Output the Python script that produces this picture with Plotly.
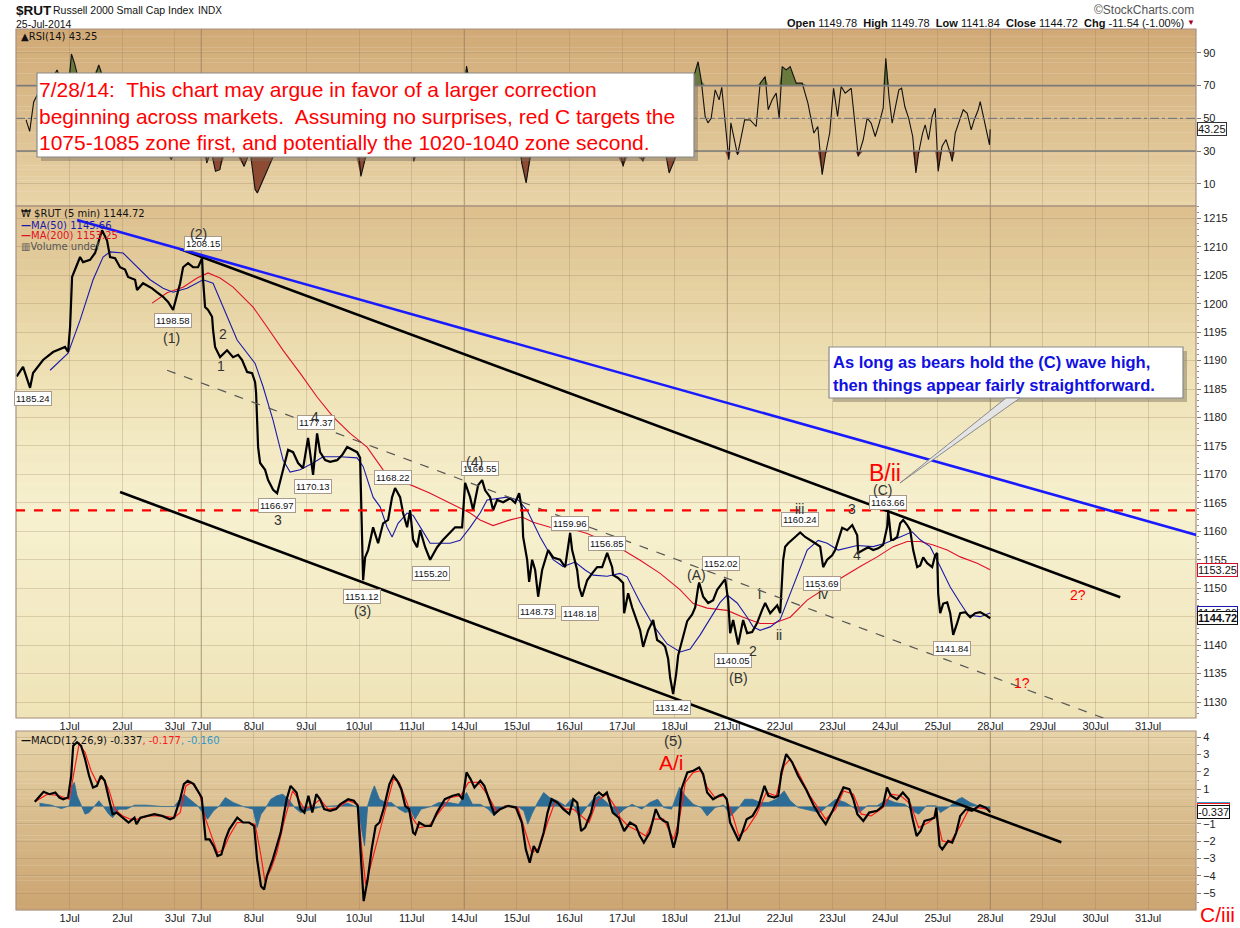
import numpy as np
import plotly.graph_objects as go

W, H = 1240, 928

# ---- axis data ----
day_labels = ['1Jul', '2Jul', '3Jul', '7Jul', '8Jul', '9Jul', '10Jul', '11Jul', '14Jul', '15Jul', '16Jul',
              '17Jul', '18Jul', '21Jul', '22Jul', '23Jul', '24Jul', '25Jul', '28Jul', '29Jul', '30Jul', '31Jul']
day_pos = [0, 1, 2, 2.5, 3.5, 4.5, 5.5, 6.5, 7.5, 8.5, 9.5, 10.5, 11.5, 12.5, 13.5, 14.5, 15.5, 16.5,
           17.5, 18.5, 19.5, 20.5]
week_pos = [2.5, 7.5, 12.5, 17.5]

# ---- $RUT 5 min close (session day, price) ----
price_pts = [
    (-1.006, 1187.2), (-0.886, 1188.9), (-0.753, 1185.2), (-0.696, 1187.8), (-0.506, 1190.1),
    (-0.316, 1191.5), (-0.087, 1192.4), (-0.030, 1191.5), (0.008, 1195.9), (0.046, 1204.7),
    (0.103, 1206.0), (0.198, 1208.2), (0.255, 1207.3), (0.388, 1207.7), (0.483, 1208.9),
    (0.540, 1210.7), (0.616, 1212.9), (0.711, 1211.1), (0.768, 1208.2), (0.863, 1208.0),
    (0.958, 1206.4), (1.053, 1206.0), (1.110, 1204.7), (1.243, 1204.2), (1.281, 1202.4),
    (1.395, 1203.6), (1.567, 1202.7), (1.662, 1202.0), (1.776, 1201.2), (1.871, 1200.3),
    (1.966, 1198.9), (2.100, 1203.6), (2.156, 1206.4), (2.251, 1207.1), (2.346, 1206.4),
    (2.441, 1206.4), (2.517, 1208.0), (2.536, 1204.2), (2.574, 1199.4), (2.631, 1198.9),
    (2.707, 1197.7), (2.726, 1195.4), (2.764, 1192.4), (2.859, 1190.6), (2.992, 1191.8),
    (3.106, 1190.6), (3.202, 1191.0), (3.278, 1190.1), (3.373, 1188.0), (3.468, 1187.8),
    (3.525, 1186.2), (3.544, 1184.3), (3.563, 1177.3), (3.582, 1174.8), (3.620, 1172.0),
    (3.715, 1170.8), (3.772, 1169.0), (3.867, 1167.3), (3.943, 1166.7), (4.000, 1169.0),
    (4.057, 1170.8), (4.152, 1174.3), (4.247, 1173.9), (4.342, 1172.0), (4.437, 1171.1),
    (4.532, 1176.4), (4.608, 1170.8), (4.627, 1169.9), (4.703, 1177.2), (4.760, 1173.9),
    (4.856, 1172.5), (4.951, 1172.2), (5.084, 1172.5), (5.179, 1173.4), (5.274, 1174.8),
    (5.369, 1174.3), (5.464, 1173.9), (5.521, 1172.9), (5.559, 1154.4), (5.578, 1151.4),
    (5.616, 1155.4), (5.673, 1156.7), (5.768, 1160.7), (5.863, 1157.9), (5.958, 1161.4),
    (6.053, 1162.0), (6.129, 1166.0), (6.186, 1167.6), (6.281, 1166.0), (6.338, 1163.2),
    (6.414, 1160.7), (6.471, 1163.7), (6.529, 1158.5), (6.605, 1157.2), (6.662, 1160.2),
    (6.757, 1157.2), (6.852, 1155.0), (6.985, 1157.2), (7.099, 1158.5), (7.232, 1159.7),
    (7.327, 1160.7), (7.460, 1160.7), (7.517, 1168.5), (7.612, 1166.0), (7.669, 1163.7),
    (7.764, 1168.1), (7.840, 1169.0), (7.897, 1167.2), (7.992, 1166.0), (8.049, 1163.7),
    (8.125, 1165.5), (8.240, 1165.1), (8.373, 1165.8), (8.468, 1165.0), (8.544, 1166.7),
    (8.601, 1163.7), (8.620, 1159.0), (8.696, 1155.0), (8.734, 1151.1), (8.791, 1155.0),
    (8.848, 1153.2), (8.905, 1148.5), (8.981, 1153.2), (9.095, 1156.7), (9.190, 1155.4),
    (9.323, 1155.0), (9.418, 1153.7), (9.513, 1159.7), (9.551, 1156.7), (9.646, 1153.2),
    (9.684, 1150.2), (9.741, 1148.5), (9.837, 1151.4), (9.932, 1152.6), (10.027, 1153.7),
    (10.122, 1153.7), (10.217, 1156.2), (10.312, 1153.7), (10.331, 1152.3), (10.426, 1151.8),
    (10.521, 1150.9), (10.540, 1145.6), (10.616, 1149.1), (10.692, 1146.6), (10.787, 1143.9),
    (10.844, 1142.6), (10.901, 1139.7), (10.996, 1142.6), (11.091, 1144.4), (11.167, 1140.9),
    (11.262, 1140.3), (11.319, 1139.7), (11.376, 1137.6), (11.414, 1134.3), (11.471, 1131.4),
    (11.528, 1134.9), (11.567, 1138.2), (11.643, 1140.7), (11.738, 1144.2), (11.833, 1145.4),
    (11.890, 1146.6), (11.947, 1150.2), (11.966, 1151.0), (12.042, 1148.5), (12.137, 1147.4),
    (12.232, 1147.9), (12.308, 1149.7), (12.403, 1150.9), (12.460, 1151.6), (12.517, 1147.9),
    (12.555, 1142.1), (12.612, 1144.4), (12.707, 1140.1), (12.802, 1144.4), (12.878, 1142.1),
    (12.973, 1142.3), (13.068, 1143.9), (13.163, 1146.2), (13.221, 1147.4), (13.316, 1145.6),
    (13.449, 1147.0), (13.506, 1145.6), (13.544, 1150.9), (13.563, 1155.0), (13.601, 1157.3),
    (13.658, 1157.9), (13.791, 1159.0), (13.886, 1159.8), (13.981, 1159.0), (14.076, 1158.5),
    (14.171, 1157.9), (14.266, 1157.3), (14.323, 1153.7), (14.399, 1155.0), (14.494, 1155.8),
    (14.551, 1156.7), (14.608, 1158.5), (14.684, 1160.6), (14.779, 1160.2), (14.875, 1161.1),
    (14.970, 1159.3), (14.989, 1156.2), (15.084, 1156.7), (15.179, 1157.2), (15.274, 1156.7),
    (15.369, 1157.0), (15.464, 1157.6), (15.540, 1160.8), (15.559, 1163.6), (15.616, 1158.5),
    (15.654, 1158.5), (15.730, 1159.0), (15.787, 1161.4), (15.844, 1162.0), (15.920, 1161.1),
    (15.977, 1160.2), (16.034, 1156.7), (16.110, 1153.7), (16.167, 1154.0), (16.224, 1155.4),
    (16.300, 1154.4), (16.395, 1153.7), (16.452, 1155.8), (16.490, 1156.2), (16.509, 1149.1),
    (16.547, 1145.6), (16.605, 1147.3), (16.681, 1147.5), (16.738, 1145.6), (16.795, 1141.8),
    (16.871, 1143.9), (16.928, 1145.6), (17.023, 1145.8), (17.118, 1144.9), (17.213, 1145.6),
    (17.308, 1145.8), (17.403, 1145.3), (17.498, 1144.72),
]

ma50_pts = [
    (-0.372, 1188.3), (-0.030, 1191.3), (0.198, 1197.1), (0.445, 1204.2), (0.635, 1208.2),
    (0.768, 1209.1), (1.015, 1208.9), (1.205, 1207.1), (1.529, 1204.2), (1.776, 1202.7),
    (1.966, 1202.0), (2.232, 1202.7), (2.536, 1204.2), (2.726, 1203.6), (2.916, 1199.4),
    (3.183, 1193.6), (3.525, 1189.5), (3.677, 1185.4), (3.867, 1179.5), (4.057, 1172.5),
    (4.190, 1170.4), (4.380, 1170.8), (4.627, 1172.0), (4.817, 1173.1), (5.141, 1173.1),
    (5.464, 1172.9), (5.578, 1171.4), (5.768, 1166.0), (5.901, 1164.3), (6.034, 1160.7),
    (6.129, 1159.0), (6.243, 1161.4), (6.414, 1163.2), (6.529, 1162.8), (6.700, 1160.2),
    (6.852, 1157.9), (7.232, 1157.9), (7.422, 1158.4), (7.612, 1160.7), (7.802, 1163.2),
    (7.935, 1165.5), (8.316, 1166.0), (8.525, 1165.5), (8.696, 1163.7), (8.943, 1159.0),
    (9.190, 1155.0), (9.380, 1153.8), (9.608, 1154.6), (9.798, 1153.2), (9.951, 1152.3),
    (10.217, 1152.1), (10.464, 1152.6), (10.597, 1152.0), (10.844, 1147.5), (11.091, 1143.5),
    (11.357, 1140.2), (11.605, 1138.8), (11.795, 1139.3), (11.985, 1141.8), (12.175, 1144.6),
    (12.365, 1147.5), (12.498, 1148.8), (12.688, 1147.4), (12.878, 1144.9), (12.992, 1143.2),
    (13.125, 1142.6), (13.316, 1143.2), (13.506, 1144.5), (13.696, 1149.0), (14.019, 1156.7),
    (14.228, 1158.4), (14.399, 1157.9), (14.608, 1156.7), (14.970, 1157.5), (15.274, 1157.3),
    (15.502, 1157.9), (15.787, 1159.0), (16.015, 1159.9), (16.167, 1158.5), (16.357, 1157.3),
    (16.547, 1153.8), (16.738, 1150.2), (16.928, 1147.4), (17.080, 1145.3), (17.308, 1145.0),
    (17.498, 1145.66),
]

ma200_pts = [
    (1.567, 1200.1), (1.852, 1201.9), (2.156, 1202.9), (2.422, 1204.5), (2.631, 1205.4),
    (2.859, 1204.5), (3.106, 1202.9), (3.487, 1199.4), (3.753, 1195.9), (4.057, 1191.8),
    (4.380, 1187.8), (4.703, 1183.6), (5.008, 1180.1), (5.331, 1177.2), (5.654, 1174.8),
    (5.958, 1170.8), (6.148, 1168.7), (6.471, 1168.2), (6.852, 1166.7), (7.232, 1165.0),
    (7.612, 1163.2), (7.802, 1162.0), (8.049, 1161.0), (8.373, 1162.0), (8.601, 1162.5),
    (8.810, 1161.6), (9.133, 1160.7), (9.513, 1160.5), (9.837, 1159.6), (10.141, 1158.4),
    (10.464, 1157.0), (10.844, 1154.9), (11.224, 1152.6), (11.605, 1149.7), (11.852, 1147.3),
    (12.118, 1146.5), (12.498, 1146.1), (12.802, 1144.9), (13.125, 1143.8), (13.373, 1143.8),
    (13.696, 1144.9), (14.019, 1147.9), (14.399, 1150.2), (14.703, 1152.0), (15.027, 1153.8),
    (15.350, 1155.5), (15.654, 1157.3), (15.920, 1158.2), (16.167, 1158.2), (16.414, 1157.6),
    (16.681, 1156.7), (16.928, 1155.5), (17.251, 1154.4), (17.498, 1153.25),
]

# ---- RSI(14) ----
rsi_pts = [
    (-0.829, 49), (-0.760, 42), (-0.684, 60), (-0.620, 64), (-0.468, 70), (-0.335, 74), (-0.240, 79.6),
    (-0.144, 72), (-0.030, 66), (0.034, 89.3), (0.093, 83.6), (0.198, 70), (0.350, 62), (0.553, 82.6),
    (0.597, 78.5), (0.711, 60), (0.863, 45), (1.053, 50), (1.243, 40), (1.435, 46), (1.624, 38),
    (1.776, 33), (1.935, 24.7), (2.023, 40), (2.156, 62), (2.289, 55), (2.441, 58), (2.517, 62),
    (2.605, 22.7), (2.688, 30), (2.772, 17.6), (2.856, 18.6), (2.973, 40), (3.125, 35), (3.316, 20.6),
    (3.430, 30), (3.525, 6.4), (3.568, 4.4), (3.652, 10.5), (3.778, 20.6), (3.861, 26), (4.000, 45),
    (4.190, 60), (4.380, 50), (4.532, 65), (4.627, 40), (4.703, 68), (4.856, 52), (5.046, 50),
    (5.236, 58), (5.426, 52), (5.536, 14.5), (5.616, 25), (5.749, 50), (5.901, 45), (6.091, 62),
    (6.205, 68), (6.338, 50), (6.471, 55), (6.542, 23.7), (6.662, 45), (6.852, 35), (7.042, 50),
    (7.327, 55), (7.460, 52), (7.545, 82), (7.650, 60), (7.802, 70), (7.992, 50), (8.183, 52),
    (8.373, 55), (8.525, 58), (8.593, 22.7), (8.677, 10.5), (8.791, 35), (8.943, 28), (9.095, 50),
    (9.323, 45), (9.513, 70), (9.665, 35), (9.760, 28), (9.932, 45), (10.179, 60), (10.369, 45),
    (10.521, 20.6), (10.654, 45), (10.897, 23.7), (11.034, 45), (11.224, 35), (11.319, 30),
    (11.395, 16.6), (11.500, 24.7), (11.605, 45), (11.757, 70), (11.890, 78.5), (11.945, 84.6),
    (12.004, 73.5), (12.080, 51.1), (12.133, 47.2), (12.194, 50), (12.270, 67.4), (12.346, 61.3),
    (12.395, 69), (12.454, 51.1), (12.530, 24.7), (12.568, 47.2), (12.643, 36.9), (12.696, 27.7),
    (12.755, 37), (12.831, 49.1), (12.935, 49), (13.049, 45), (13.125, 71.5), (13.221, 75.5),
    (13.278, 55.2), (13.354, 61.3), (13.430, 65.4), (13.487, 50.1), (13.544, 81.6), (13.620, 79.6),
    (13.696, 81.6), (13.810, 71.5), (13.924, 71.5), (14.033, 59.3), (14.146, 41), (14.221, 45),
    (14.304, 15.5), (14.371, 28.8), (14.447, 41), (14.521, 68.4), (14.597, 51.1), (14.665, 69.4),
    (14.741, 65.4), (14.856, 68.4), (14.932, 45), (14.989, 26.7), (15.084, 36.9), (15.160, 50.1),
    (15.236, 47), (15.312, 38.9), (15.388, 47), (15.464, 56.2), (15.513, 86.7), (15.574, 63.3),
    (15.635, 47), (15.686, 55.2), (15.762, 67.4), (15.814, 68.4), (15.875, 57.2), (15.949, 50),
    (16.025, 38.9), (16.086, 16.6), (16.137, 28.8), (16.213, 41), (16.262, 46), (16.325, 36.9),
    (16.395, 51.1), (16.452, 56.2), (16.509, 17.6), (16.582, 32.8), (16.658, 37), (16.738, 28.8),
    (16.776, 23.7), (16.833, 41), (16.928, 49.1), (16.985, 55.2), (17.061, 53), (17.137, 43),
    (17.194, 49), (17.270, 55.2), (17.308, 60.2), (17.371, 51.1), (17.447, 41), (17.485, 33.8),
    (17.498, 43.25),
]

# ---- MACD(12,26,9) ----
macd_pts = [
    (-0.662, 0.27), (-0.496, 0.85), (-0.384, 0.71), (-0.272, 0.81), (-0.196, 0.52), (-0.122, 0.42),
    (-0.030, 0.52), (0.029, 1.77), (0.067, 3.5), (0.141, 3.7), (0.217, 3.5), (0.293, 2.74),
    (0.369, 1.77), (0.443, 1.1), (0.517, 1.19), (0.593, 1.77), (0.667, 1.48), (0.743, 0.42),
    (0.817, -0.44), (0.894, -0.35), (1.006, -0.64), (1.120, -0.92), (1.232, -0.64), (1.270, -1.02),
    (1.344, -0.64), (1.456, -0.54), (1.608, -0.44), (1.757, -0.54), (1.909, -0.73), (1.985, -0.64),
    (2.099, 0.42), (2.171, 1.29), (2.245, 1.48), (2.359, 1.29), (2.510, 0.52), (2.548, -0.73),
    (2.584, -1.89), (2.660, -1.89), (2.734, -2.27), (2.810, -2.85), (2.884, -2.76), (2.960, -1.89),
    (3.034, -1.31), (3.186, -0.64), (3.297, -0.92), (3.411, -0.92), (3.506, -1.12), (3.563, -3.04),
    (3.637, -4.59), (3.696, -4.78), (3.749, -4.0), (3.861, -3.04), (4.011, -1.5), (4.125, 0.42),
    (4.200, 1.19), (4.312, 0.81), (4.388, -0.15), (4.462, -0.35), (4.538, 0.62), (4.612, -0.35),
    (4.688, 0.71), (4.760, 0.42), (4.837, -0.15), (4.951, -0.25), (5.065, -0.15), (5.141, 0.13),
    (5.293, 0.42), (5.403, 0.33), (5.477, 0.04), (5.515, -1.89), (5.553, -4.0), (5.589, -5.45),
    (5.665, -4.2), (5.740, -2.47), (5.816, -1.12), (5.890, -0.92), (5.966, -0.15), (6.078, 1.29),
    (6.154, 1.77), (6.228, 1.48), (6.304, 1.0), (6.378, 0.04), (6.452, -0.15), (6.529, -1.5),
    (6.567, -1.6), (6.643, -0.92), (6.755, -1.12), (6.867, -1.12), (6.981, -0.35), (7.131, 0.42),
    (7.281, 0.62), (7.394, 0.71), (7.470, 0.42), (7.544, 1.97), (7.620, 1.58), (7.694, 1.1),
    (7.806, 1.48), (7.882, 1.19), (7.994, 0.23), (8.070, -0.44), (8.183, -0.15), (8.335, 0.04),
    (8.483, -0.06), (8.595, -0.92), (8.671, -2.47), (8.745, -3.24), (8.821, -2.27), (8.895, -2.66),
    (9.010, -1.5), (9.084, -0.35), (9.160, 0.42), (9.272, 0.23), (9.384, -0.15), (9.498, -0.44),
    (9.572, 0.42), (9.648, 0.23), (9.722, -1.41), (9.798, -1.21), (9.911, -0.35), (9.985, 0.62),
    (10.061, 0.81), (10.137, 0.62), (10.211, 0.81), (10.323, -0.35), (10.437, -0.64), (10.540, -1.41),
    (10.652, -0.92), (10.764, -1.12), (10.840, -1.7), (10.914, -2.08), (11.027, -1.5), (11.141, -0.15),
    (11.215, -0.64), (11.291, -0.83), (11.365, -0.92), (11.441, -1.89), (11.479, -2.37), (11.553, -1.5),
    (11.629, 1.0), (11.741, 1.97), (11.854, 2.06), (11.966, 2.25), (12.042, 1.87), (12.118, 0.81),
    (12.230, 0.42), (12.342, 0.62), (12.418, 0.71), (12.492, 0.42), (12.553, -0.92), (12.643, -1.5),
    (12.719, -1.98), (12.793, -1.41), (12.869, -0.73), (12.981, -0.54), (13.093, 0.04), (13.207, 1.19),
    (13.281, 0.62), (13.395, 0.52), (13.470, 0.62), (13.530, 1.97), (13.620, 3.02), (13.734, 2.54),
    (13.846, 1.77), (13.996, 1.0), (14.146, 0.04), (14.259, -0.54), (14.371, -1.02), (14.485, -0.35),
    (14.597, 0.42), (14.709, 1.1), (14.821, 1.0), (14.897, 0.42), (14.973, -0.44), (15.086, -0.83),
    (15.198, -0.35), (15.348, -0.25), (15.460, 0.04), (15.536, 1.1), (15.610, 0.62), (15.724, 0.42),
    (15.837, 0.81), (15.949, 0.42), (16.025, -0.73), (16.099, -1.7), (16.175, -1.41), (16.249, -0.83),
    (16.363, -0.73), (16.437, -0.64), (16.475, -0.06), (16.536, -2.27), (16.587, -2.47), (16.700, -1.98),
    (16.776, -2.08), (16.852, -1.5), (16.928, -0.54), (17.038, -0.15), (17.152, -0.25), (17.302, 0.08),
    (17.414, -0.06), (17.498, -0.337),
]

signal_pts = [
    (-0.662, 0.27), (-0.422, 0.71), (-0.196, 0.62), (-0.008, 0.42), (0.105, 2.35), (0.179, 3.6),
    (0.293, 3.12), (0.407, 2.06), (0.517, 1.39), (0.631, 1.68), (0.743, 1.0), (0.856, -0.15),
    (1.006, -0.54), (1.156, -0.73), (1.306, -0.73), (1.494, -0.54), (1.757, -0.54), (1.985, -0.64),
    (2.099, -0.35), (2.209, 1.19), (2.321, 1.39), (2.471, 0.71), (2.584, -0.73), (2.698, -1.7),
    (2.810, -2.66), (2.922, -2.47), (3.034, -1.7), (3.186, -0.92), (3.373, -0.92), (3.525, -1.02),
    (3.637, -2.85), (3.711, -4.3), (3.825, -3.62), (3.937, -2.66), (4.087, -0.73), (4.238, 0.9),
    (4.350, 0.42), (4.462, -0.15), (4.612, 0.04), (4.760, 0.42), (4.913, -0.15), (5.101, -0.06),
    (5.289, 0.33), (5.477, 0.13), (5.553, -2.47), (5.627, -4.49), (5.740, -3.24), (5.854, -1.89),
    (6.004, -0.15), (6.154, 1.58), (6.266, 1.39), (6.416, 0.23), (6.529, -0.73), (6.643, -1.21),
    (6.831, -1.12), (7.017, -0.35), (7.243, 0.52), (7.432, 0.62), (7.582, 1.39), (7.770, 1.39),
    (7.956, 0.62), (8.106, -0.25), (8.295, 0.04), (8.521, -0.06), (8.671, -1.5), (8.785, -2.66),
    (8.933, -2.37), (9.084, -0.92), (9.234, 0.33), (9.422, -0.15), (9.572, -0.15), (9.722, -0.54),
    (9.873, -0.92), (10.023, 0.33), (10.211, 0.71), (10.399, -0.15), (10.464, -0.64), (10.614, -1.12),
    (10.802, -1.41), (10.952, -1.7), (11.103, -0.73), (11.291, -0.73), (11.479, -1.89), (11.591, -0.73),
    (11.703, 1.39), (11.854, 1.97), (12.004, 2.06), (12.118, 1.1), (12.268, 0.52), (12.454, 0.62),
    (12.605, -0.54), (12.719, -1.7), (12.869, -1.31), (13.057, -0.44), (13.243, 0.81), (13.431, 0.62),
    (13.582, 2.35), (13.696, 2.74), (13.846, 1.97), (14.072, 0.62), (14.221, -0.06), (14.371, -0.73),
    (14.559, -0.15), (14.709, 0.9), (14.897, 0.71), (15.048, -0.44), (15.236, -0.54), (15.460, -0.06),
    (15.610, 0.71), (15.798, 0.62), (15.987, 0.13), (16.137, -1.21), (16.325, -0.92), (16.475, -0.54),
    (16.587, -1.98), (16.738, -2.08), (16.928, -1.12), (17.076, -0.25), (17.264, -0.06), (17.498, -0.177),
]

hist_pts = [
    (-0.572, 0.19), (-0.346, 0.08), (-0.158, -0.12), (-0.008, 0.04), (0.046, 1.19), (0.089, 1.39),
    (0.141, 0.62), (0.217, 0.04), (0.293, -0.44), (0.369, -0.35), (0.481, 0.04), (0.555, 0.33),
    (0.631, 0.04), (0.743, -0.44), (0.817, -0.64), (0.932, -0.15), (1.082, -0.15), (1.232, 0.08),
    (1.456, 0.08), (1.757, 0), (1.985, 0), (2.099, 0.42), (2.171, 0.71), (2.283, 0.42), (2.433, 0.04),
    (2.548, -0.44), (2.622, -0.73), (2.734, -0.25), (2.848, 0.04), (2.960, 0.52), (3.110, 0.23),
    (3.297, 0), (3.487, -0.15), (3.563, -1.21), (3.637, -0.44), (3.711, -0.15), (3.825, 0.42),
    (3.937, 0.62), (4.049, 0.71), (4.162, 0.42), (4.276, -0.06), (4.388, -0.35), (4.612, -0.15),
    (4.800, 0), (5.065, 0.04), (5.289, 0.19), (5.477, -0.06), (5.553, -1.5), (5.605, -2.27),
    (5.665, 0.04), (5.740, 0.81), (5.793, 1.19), (5.890, 0.42), (6.004, 0.23), (6.116, 0.23),
    (6.266, -0.15), (6.378, -0.35), (6.490, -0.25), (6.567, -0.73), (6.679, -0.15), (6.867, 0),
    (7.017, 0.23), (7.205, 0.23), (7.394, 0.13), (7.544, 0.81), (7.656, 0.13), (7.806, 0.13),
    (7.956, -0.15), (8.070, -0.54), (8.257, 0.04), (8.521, 0), (8.633, -0.25), (8.709, -1.02),
    (8.785, -0.44), (8.895, 0.23), (9.010, 0.81), (9.122, 0.52), (9.272, 0.33), (9.422, 0.04),
    (9.534, 0.42), (9.684, -0.64), (9.798, -0.15), (9.949, 0.42), (10.061, 0.62), (10.211, 0.23),
    (10.399, -0.54), (10.540, -0.15), (10.690, 0.13), (10.876, -0.15), (11.027, 0.23), (11.177, 0.42),
    (11.291, -0.06), (11.441, -0.15), (11.591, 1.1), (11.703, 0.62), (11.854, 0.13), (12.004, -0.06),
    (12.118, -0.54), (12.268, -0.06), (12.433, 0.08), (12.568, -0.54), (12.719, -0.06), (12.831, 0.42),
    (12.981, 0.42), (13.131, 0.23), (13.281, 0.23), (13.431, 0.42), (13.582, 0.9), (13.696, 0.33),
    (13.846, -0.06), (13.996, -0.15), (14.146, -0.25), (14.259, -0.35), (14.409, 0.04), (14.559, 0.42),
    (14.747, 0.23), (14.897, -0.06), (15.010, -0.35), (15.160, 0.04), (15.348, 0.04), (15.536, 0.42),
    (15.686, 0.23), (15.875, 0.13), (16.025, -0.25), (16.137, -0.44), (16.287, 0.04), (16.475, 0.04),
    (16.551, -0.35), (16.700, -0.06), (16.890, 0.42), (16.964, 0.52), (17.114, 0.23), (17.264, 0.04),
    (17.414, -0.15), (17.498, -0.16),
]

# drawn trend lines (day, value)
blue_line = [(0.141, 1214.7), (22.02, 1157.8)]
upper_black = [(2.10, 1209.6), (19.97, 1148.4)]
mid_dashed = [(1.852, 1188.3), (19.70, 1127.0)]
lower_black_start = (0.958, 1166.9)   # price panel
lower_black_end = (18.85, -2.06)      # MACD panel
c_wave_high = 1163.66

# price pivot labels (text, day, price)
pivot_boxes = [
    ('1185.24', -0.70, 1183.3), ('1198.58', 1.96, 1197.0), ('1208.15', 2.54, 1210.5),
    ('1177.37', 4.68, 1179.2), ('1166.97', 3.94, 1164.5), ('1170.13', 4.63, 1167.8),
    ('1168.22', 6.15, 1169.5), ('1151.12', 5.56, 1148.5), ('1155.20', 6.87, 1152.6),
    ('1169.55', 7.80, 1171.0), ('1159.96', 9.51, 1161.3), ('1156.85', 10.22, 1157.9),
    ('1148.73', 8.89, 1145.9), ('1148.18', 9.70, 1145.6), ('1152.02', 12.38, 1154.4),
    ('1131.42', 11.45, 1129.1), ('1140.05', 12.61, 1137.3), ('1160.24', 13.88, 1162.0),
    ('1153.69', 14.30, 1150.8), ('1163.66', 15.56, 1165.1), ('1141.84', 16.78, 1139.4),
]
wave_labels = [
    ('(1)', 1.93, 1194.0), ('(2)', 2.44, 1212.3), ('2', 2.92, 1194.6), ('1', 2.88, 1189.0),
    ('4', 4.66, 1180.0), ('3', 3.96, 1162.0), ('(3)', 5.56, 1146.0), ('(4)', 7.70, 1172.2),
    ('(A)', 11.91, 1152.3), ('2', 12.99, 1138.9), ('(B)', 12.71, 1134.2), ('i', 13.12, 1148.9),
    ('ii', 13.49, 1141.7), ('iii', 13.88, 1163.9), ('3', 14.87, 1163.9), ('4', 14.97, 1155.8),
    ('iv', 14.32, 1148.9), ('(C)', 15.46, 1167.2),
]
red_labels = [('B/ii', 15.50, 1170.2, 23), ('2?', 19.17, 1148.8, 14), ('1?', 18.11, 1133.3, 14)]

note_lines = [
    '7/28/14:  This chart may argue in favor of a larger correction',
    'beginning across markets.  Assuming no surprises, red C targets the',
    '1075-1085 zone first, and potentially the 1020-1040 zone second.',
]
callout_lines = ['As long as bears hold the (C) wave high,', 'then things appear fairly straightforward.']


def xy(pts):
    return [p[0] for p in pts], [p[1] for p in pts]


# ---- geometry ----
XR = [-1.02, 21.41]
RSI_R = [-3.6, 104.6]
PX_R = [1127.19, 1217.16]
MACD_R = [-5.96, 4.35]


def pxx(x):
    return x / W


def pxy(y):
    return 1 - y / H


XD = [pxx(16), pxx(1196)]
RSI_D = [pxy(206), pxy(29)]
PX_D = [pxy(718), pxy(206)]
MACD_D = [pxy(910), pxy(731)]


def data_to_paper(u, v, dom, rng):
    px_ = XD[0] + (u - XR[0]) / (XR[1] - XR[0]) * (XD[1] - XD[0])
    py_ = dom[0] + (v - rng[0]) / (rng[1] - rng[0]) * (dom[1] - dom[0])
    return px_, py_


FONT = 'Liberation Sans, Arial, sans-serif'
SMALL = 'DejaVu Sans, Verdana, sans-serif'

fig = go.Figure()

# ---- RSI traces ----
rx, ry = xy(rsi_pts)
ry = np.array(ry, dtype=float)
fig.add_trace(go.Scatter(x=rx, y=[70] * len(rx), mode='lines', line=dict(width=0), xaxis='x', yaxis='y',
                         hoverinfo='skip'))
fig.add_trace(go.Scatter(x=rx, y=np.maximum(ry, 70), mode='lines', line=dict(width=0), fill='tonexty',
                         fillcolor='#6a7a3c', xaxis='x', yaxis='y', hoverinfo='skip'))
fig.add_trace(go.Scatter(x=rx, y=[30] * len(rx), mode='lines', line=dict(width=0), xaxis='x', yaxis='y',
                         hoverinfo='skip'))
fig.add_trace(go.Scatter(x=rx, y=np.minimum(ry, 30), mode='lines', line=dict(width=0), fill='tonexty',
                         fillcolor='#8c4b32', xaxis='x', yaxis='y', hoverinfo='skip'))
fig.add_trace(go.Scatter(x=rx, y=ry, mode='lines', line=dict(color='#111111', width=1.1),
                         xaxis='x', yaxis='y'))

# ---- price traces ----
mx, my = xy(ma200_pts)
fig.add_trace(go.Scatter(x=mx, y=my, mode='lines', line=dict(color='#e0102a', width=1.1), xaxis='x2', yaxis='y2'))
mx, my = xy(ma50_pts)
fig.add_trace(go.Scatter(x=mx, y=my, mode='lines', line=dict(color='#1a1aa8', width=1.1), xaxis='x2', yaxis='y2'))
px_, py_ = xy(price_pts)
fig.add_trace(go.Scatter(x=px_, y=py_, mode='lines', line=dict(color='#000000', width=2.2), xaxis='x2', yaxis='y2'))

# ---- MACD traces ----
hx, hy = xy(hist_pts)
fig.add_trace(go.Scatter(x=hx, y=hy, mode='lines', line=dict(color='#2d6c94', width=0.8), fill='tozeroy',
                         fillcolor='#2d6c94', xaxis='x3', yaxis='y3'))
sx, sy = xy(signal_pts)
fig.add_trace(go.Scatter(x=sx, y=sy, mode='lines', line=dict(color='#ff1a1a', width=1.2), xaxis='x3', yaxis='y3'))
kx, ky = xy(macd_pts)
fig.add_trace(go.Scatter(x=kx, y=ky, mode='lines', line=dict(color='#000000', width=2.2), xaxis='x3', yaxis='y3'))

# ---- background gradients ----
shapes = []


def mix(c1, c2, t):
    a = [int(c1[i:i + 2], 16) for i in (1, 3, 5)]
    b = [int(c2[i:i + 2], 16) for i in (1, 3, 5)]
    return 'rgb(%d,%d,%d)' % tuple(round(a[k] + (b[k] - a[k]) * t) for k in range(3))


def gradient(y0, y1, stops, n=48):
    for i in range(n):
        t = (i + 0.5) / n
        for j in range(len(stops) - 1):
            if stops[j][0] <= t <= stops[j + 1][0]:
                f = (t - stops[j][0]) / (stops[j + 1][0] - stops[j][0])
                col = mix(stops[j][1], stops[j + 1][1], f)
                break
        ya = y0 + (y1 - y0) * i / n
        yb = y0 + (y1 - y0) * (i + 1) / n
        shapes.append(dict(type='rect', xref='paper', yref='paper', x0=XD[0], x1=XD[1],
                           y0=pxy(ya), y1=pxy(yb) - 0.0004, fillcolor=col, line=dict(width=0), layer='below'))


gradient(29, 206, [(0, '#d0a975'), (1, '#e8d4a8')])
gradient(206, 718, [(0, '#dcbf8d'), (0.3, '#eddfb2'), (0.6, '#f7f1d0'), (1, '#efe3b7')])
gradient(731, 910, [(0, '#e6d3a8'), (1, '#cba470')])

# week separators
for wp in week_pos:
    for xa, ya in (('x', 'y'), ('x2', 'y2'), ('x3', 'y3')):
        shapes.append(dict(type='line', xref=xa, yref=ya + ' domain', x0=wp, x1=wp, y0=0, y1=1,
                           line=dict(color='rgba(140,115,90,0.55)', width=1), layer='below'))

# RSI reference lines
for lv, dash in ((70, 'solid'), (30, 'solid'), (50, 'dashdot')):
    shapes.append(dict(type='line', xref='x domain', yref='y', x0=0, x1=1, y0=lv, y1=lv,
                       line=dict(color='#7a7a7a', width=1.6 if dash == 'solid' else 1.2, dash=dash)))

# panel borders
for dom in (RSI_D, PX_D, MACD_D):
    shapes.append(dict(type='rect', xref='paper', yref='paper', x0=XD[0], x1=XD[1], y0=dom[0], y1=dom[1],
                       line=dict(color='#a89082', width=1.2)))

# trend lines
shapes.append(dict(type='line', xref='x2', yref='y2', x0=mid_dashed[0][0], y0=mid_dashed[0][1],
                   x1=mid_dashed[1][0], y1=mid_dashed[1][1], line=dict(color='#555555', width=1.2, dash='dash')))
shapes.append(dict(type='line', xref='x2', yref='y2', x0=XR[0], x1=XR[1], y0=c_wave_high, y1=c_wave_high,
                   line=dict(color='#ff0000', width=2.2, dash='dash')))
shapes.append(dict(type='line', xref='x2', yref='y2', x0=upper_black[0][0], y0=upper_black[0][1],
                   x1=upper_black[1][0], y1=upper_black[1][1], line=dict(color='#000000', width=2.6)))
shapes.append(dict(type='line', xref='x2', yref='y2', x0=blue_line[0][0], y0=blue_line[0][1],
                   x1=blue_line[1][0], y1=blue_line[1][1], line=dict(color='#1a1aff', width=2.6)))
lx0, ly0 = data_to_paper(*lower_black_start, PX_D, PX_R)
lx1, ly1 = data_to_paper(*lower_black_end, MACD_D, MACD_R)
shapes.append(dict(type='line', xref='paper', yref='paper', x0=lx0, y0=ly0, x1=lx1, y1=ly1,
                   line=dict(color='#000000', width=2.6)))

# note boxes (shadow + box)
for (x0, y0, x1, y1) in ((37, 73, 694, 157), (829, 347, 1183, 398)):
    shapes.append(dict(type='rect', xref='paper', yref='paper', x0=pxx(x0 + 4), x1=pxx(x1 + 4),
                       y0=pxy(y1 + 4), y1=pxy(y0 + 4), fillcolor='rgba(120,110,90,0.45)', line=dict(width=0)))
    shapes.append(dict(type='rect', xref='paper', yref='paper', x0=pxx(x0), x1=pxx(x1), y0=pxy(y1), y1=pxy(y0),
                       fillcolor='#ffffff', line=dict(color='#8a8a8a', width=1.2)))
# callout pointer
shapes.append(dict(type='path', xref='paper', yref='paper',
                   path='M %f %f L %f %f L %f %f Z' % (pxx(1006), pxy(398), pxx(1020), pxy(398), pxx(900), pxy(483)),
                   fillcolor='#e4e4e4', line=dict(color='#8a8a8a', width=1)))

# ---- annotations ----
ann = []


def text(x, y, s, size=11, color='#222222', family=FONT, xanchor='left', yanchor='middle', **kw):
    ann.append(dict(xref='paper', yref='paper', x=pxx(x), y=pxy(y), text=s, showarrow=False,
                    font=dict(size=size, color=color, family=family), xanchor=xanchor, yanchor=yanchor, **kw))


text(14, 10, '<b>$RUT</b>', size=13.5, color='#111')
text(51, 10, 'Russell 2000 Small Cap Index', size=10.5, color='#111')
text(196, 10, 'INDX', size=10, color='#111')
text(14, 24, '25-Jul-2014', size=10.5, color='#111')
text(1196, 10, '©StockCharts.com', size=12, color='#555', xanchor='right')
text(1186, 23, '<b>Open</b> 1149.78  <b>High</b> 1149.78  <b>Low</b> 1141.84  <b>Close</b> 1144.72  '
     '<b>Chg</b> -11.54 (-1.00%)', size=11, color='#111', xanchor='right')
text(1197, 23, '▼', size=8, color='#a0002a', xanchor='right')

text(19, 37, '<b>▲</b>RSI(14) 43.25', size=10, color='#111', family=SMALL)
text(19, 213, '₩ $RUT (5 min) 1144.72', size=10, color='#111', family=SMALL)
text(19, 225, '<b>—</b>MA(50) 1145.66', size=10, color='#1a1aa8', family=SMALL)
text(19, 236, '<b>—</b>MA(200) 1153.25', size=10, color='#e0102a', family=SMALL)
text(19, 246, '▥Volume undef', size=10, color='#555', family=SMALL)
text(19, 740, '<b>—</b>MACD(12,26,9) -0.337<span style="color:#ff1a1a">, -0.177</span>'
     '<span style="color:#3399cc">, -0.160</span>', size=10, color='#111', family=SMALL)

for i, s in enumerate(note_lines):
    text(37, 90 + i * 26.5, s, size=21, color='#ff0000')
for i, s in enumerate(callout_lines):
    text(831, 362 + i * 23, '<b>' + s + '</b>', size=16.5, color='#1010e0')

for s, u, v in pivot_boxes:
    ann.append(dict(xref='x2', yref='y2', x=u, y=v, text=s, showarrow=False,
                    font=dict(size=9.5, color='#111', family=FONT), bgcolor='#ffffff',
                    bordercolor='#a99a8a', borderwidth=1, borderpad=1))
for s, u, v in wave_labels:
    ann.append(dict(xref='x2', yref='y2', x=u, y=v, text=s, showarrow=False,
                    font=dict(size=14, color='#333333', family=FONT)))
for s, u, v, sz in red_labels:
    ann.append(dict(xref='x2', yref='y2', x=u, y=v, text=s, showarrow=False,
                    font=dict(size=sz, color='#ff0000', family=FONT)))
text(673, 740, '(5)', size=15, color='#333333', xanchor='center')
text(671, 762, 'A/i', size=21, color='#ff0000', xanchor='center')
text(1237, 914, 'C/iii', size=21, color='#ff0000', xanchor='right')


# last value tags on the right axis
def tag(v, yref, s, border, bold=False):
    ann.append(dict(xref='paper', yref=yref, x=pxx(1197), y=v, text='<b>%s</b>' % s if bold else s,
                    showarrow=False, xanchor='left', font=dict(size=11, color='#111', family=FONT),
                    bgcolor='#ffffff', bordercolor=border, borderwidth=1, borderpad=0))


tag(43.25, 'y', '43.25', '#333333')
tag(1153.25, 'y2', '1153.25', '#d0102a')
tag(1145.66, 'y2', '1145.66', '#1a1aa8')
tag(1144.72, 'y2', '1144.72', '#111111', bold=True)
tag(-0.16, 'y3', '-0.160', '#3399cc')
tag(-0.177, 'y3', '-0.177', '#ff1a1a')
tag(-0.337, 'y3', '-0.337', '#111111')

GRID = 'rgba(150,125,95,0.28)'
xcommon = dict(range=XR, tickvals=day_pos, ticktext=day_labels, showgrid=True, gridcolor=GRID, gridwidth=1,
               zeroline=False, showline=False, ticks='', tickfont=dict(size=11, color='#222', family=FONT),
               domain=XD, fixedrange=True)
ycommon = dict(side='right', showgrid=True, gridcolor=GRID, zeroline=False, showline=False, ticks='outside',
               ticklen=4, tickcolor='#8a7a6a', tickfont=dict(size=11, color='#222', family=FONT), fixedrange=True)

fig.update_layout(
    width=W, height=H, margin=dict(l=0, r=0, t=0, b=0), showlegend=False,
    paper_bgcolor='#ffffff', plot_bgcolor='rgba(0,0,0,0)',
    xaxis=dict(xcommon, anchor='y', showticklabels=False),
    xaxis2=dict(xcommon, anchor='y2', showticklabels=True),
    xaxis3=dict(xcommon, anchor='y3', showticklabels=True),
    yaxis=dict(ycommon, anchor='x', domain=RSI_D, range=RSI_R, tickvals=[10, 30, 50, 70, 90]),
    yaxis2=dict(ycommon, anchor='x2', domain=PX_D, range=PX_R, tickvals=list(range(1130, 1216, 5)),
                minor=dict(ticks='outside', ticklen=2, dtick=1, tickcolor='#9a8a7a', showgrid=False)),
    yaxis3=dict(ycommon, anchor='x3', domain=MACD_D, range=MACD_R, tickvals=list(range(-5, 5)),
                minor=dict(ticks='outside', ticklen=2, dtick=0.5, tickcolor='#9a8a7a', showgrid=False)),
    shapes=shapes, annotations=ann,
)

fig.write_html("out.html", config={'displayModeBar': False},
               post_script="document.body.style.margin='0';")
